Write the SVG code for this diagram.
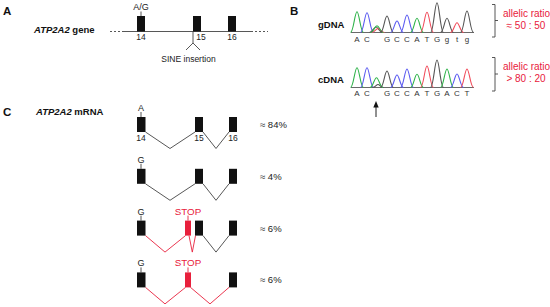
<svg xmlns="http://www.w3.org/2000/svg" width="550" height="307" viewBox="0 0 550 307">
<style>
text{font-family:"Liberation Sans",Arial,sans-serif;fill:#222}
.pl{font-size:11.5px;font-weight:bold;fill:#111}
.bl{font-size:9.5px;font-weight:bold;fill:#111}
.sm{font-size:8.5px}
.lb{font-size:9px}
.mid{text-anchor:middle}
.red{fill:#e8203c}
.ex{fill:#111}
.exr{fill:#e8203c}
.ln{fill:none;stroke:#444;stroke-width:0.9}
.lnr{fill:none;stroke:#e8203c;stroke-width:0.9}
.pk{fill:none;stroke-width:1.1}
.g{stroke:#2fb34a}.b{stroke:#5b5bf0}.k{stroke:#555}.r{stroke:#f04b5a}
.base{font-size:8px;fill:#333;text-anchor:middle}
.pct{font-size:9.5px}
.rr{font-size:10px;fill:#e8203c;text-anchor:middle}
</style>

<!-- Panel A -->
<g id="panelA">
<text class="pl" x="3" y="15">A</text>
<text class="bl" x="34" y="33"><tspan font-style="italic">ATP2A2</tspan> gene</text>
<g id="connectorsA">
<line class="ln" x1="110" y1="31.5" x2="122" y2="31.5" stroke-dasharray="2,2"/>
<line class="ln" x1="122" y1="31.5" x2="253" y2="31.5"/>
<line class="ln" x1="255" y1="31.5" x2="268" y2="31.5" stroke-dasharray="2,2"/>
<path class="ln" d="M141,11.5 V16"/>
<path class="ln" d="M193,31.5 V43 M193,43 L186,50 M193,43 L200,50"/>
</g>
<g id="A-exon14"><rect class="ex" x="137" y="16" width="8" height="15.5"/><text class="lb mid" x="141" y="10">A/G</text><text class="sm mid" x="141" y="40">14</text></g>
<g id="A-exon15"><rect class="ex" x="193" y="16" width="8" height="15.5"/><text class="sm mid" x="201" y="40">15</text></g>
<g id="A-exon16"><rect class="ex" x="228" y="16" width="8" height="15.5"/><text class="sm mid" x="232" y="40">16</text></g>
<text class="sm mid" x="188.5" y="62">SINE insertion</text>
</g>

<!-- Panel B -->
<g id="panelB">
<text class="pl" x="290" y="15">B</text>
<text class="bl" x="318" y="28">gDNA</text>
<text class="bl" x="318" y="83">cDNA</text>
<g id="gDNA-trace">
<line x1="351" y1="32.5" x2="474" y2="32.5" stroke="#444" stroke-width="0.8"/>
<path class="pk g" d="M350.5,32.5 C353.5,32.5 354.8,11.7 357,11.7 C359.2,11.7 360.5,32.5 363.5,32.5"/>
<path class="pk b" d="M360.5,32.5 C363.5,32.5 364.8,12.7 367,12.7 C369.2,12.7 370.5,32.5 373.5,32.5"/>
<path class="pk k" d="M369.5,32.5 C372.5,32.5 373.8,27 376,27 C378.2,27 379.5,32.5 382.5,32.5"/>
<path class="pk r" d="M371.5,32.5 C374.5,32.5 375.8,28.5 378,28.5 C380.2,28.5 381.5,32.5 384.5,32.5"/>
<path class="pk g" d="M370.5,32.5 C373.5,32.5 374.8,25.7 377,25.7 C379.2,25.7 380.5,32.5 383.5,32.5"/>
<path class="pk k" d="M380.5,32.5 C383.5,32.5 384.8,16 387,16 C389.2,16 390.5,32.5 393.5,32.5"/>
<path class="pk b" d="M390.5,32.5 C393.5,32.5 394.8,21 397,21 C399.2,21 400.5,32.5 403.5,32.5"/>
<path class="pk b" d="M400.5,32.5 C403.5,32.5 404.8,15 407,15 C409.2,15 410.5,32.5 413.5,32.5"/>
<path class="pk g" d="M410.5,32.5 C413.5,32.5 414.8,18.3 417,18.3 C419.2,18.3 420.5,32.5 423.5,32.5"/>
<path class="pk r" d="M420.5,32.5 C423.5,32.5 424.8,12.3 427,12.3 C429.2,12.3 430.5,32.5 433.5,32.5"/>
<path class="pk k" d="M430.5,32.5 C433.5,32.5 434.8,2.7 437,2.7 C439.2,2.7 440.5,32.5 443.5,32.5"/>
<path class="pk k" d="M440.5,32.5 C443.5,32.5 444.8,18.3 447,18.3 C449.2,18.3 450.5,32.5 453.5,32.5"/>
<path class="pk r" d="M450.5,32.5 C453.5,32.5 454.8,22.7 457,22.7 C459.2,22.7 460.5,32.5 463.5,32.5"/>
<path class="pk k" d="M460.5,32.5 C463.5,32.5 464.8,11 467,11 C469.2,11 470.5,32.5 473.5,32.5"/>
<text class="base" y="41.5"><tspan x="357">A</tspan><tspan x="367">C</tspan><tspan x="387">G</tspan><tspan x="397">C</tspan><tspan x="407">C</tspan><tspan x="417">A</tspan><tspan x="427">T</tspan><tspan x="437">G</tspan><tspan x="447">g</tspan><tspan x="457">t</tspan><tspan x="467">g</tspan></text>
</g>
<g id="cDNA-trace">
<line x1="351" y1="87.5" x2="474" y2="87.5" stroke="#444" stroke-width="0.8"/>
<path class="pk g" d="M350.5,87.5 C353.5,87.5 354.8,67.7 357,67.7 C359.2,67.7 360.5,87.5 363.5,87.5"/>
<path class="pk b" d="M360.5,87.5 C363.5,87.5 364.8,67.7 367,67.7 C369.2,67.7 370.5,87.5 373.5,87.5"/>
<path class="pk k" d="M372.5,87.5 C375.5,87.5 376.3,84.5 378,84.5 C379.7,84.5 380.5,87.5 383.5,87.5"/>
<path class="pk g" d="M370,87.5 C373,87.5 374.3,77.7 376.5,77.7 C378.7,77.7 380,87.5 383,87.5"/>
<path class="pk k" d="M380.5,87.5 C383.5,87.5 384.8,71 387,71 C389.2,71 390.5,87.5 393.5,87.5"/>
<path class="pk b" d="M390.5,87.5 C393.5,87.5 394.8,75 397,75 C399.2,75 400.5,87.5 403.5,87.5"/>
<path class="pk b" d="M400.5,87.5 C403.5,87.5 404.8,69 407,69 C409.2,69 410.5,87.5 413.5,87.5"/>
<path class="pk g" d="M410.5,87.5 C413.5,87.5 414.8,74.3 417,74.3 C419.2,74.3 420.5,87.5 423.5,87.5"/>
<path class="pk r" d="M420.5,87.5 C423.5,87.5 424.8,66 427,66 C429.2,66 430.5,87.5 433.5,87.5"/>
<path class="pk k" d="M430.5,87.5 C433.5,87.5 434.8,60 437,60 C439.2,60 440.5,87.5 443.5,87.5"/>
<path class="pk g" d="M440.5,87.5 C443.5,87.5 444.8,69 447,69 C449.2,69 450.5,87.5 453.5,87.5"/>
<path class="pk b" d="M450.5,87.5 C453.5,87.5 454.8,74 457,74 C459.2,74 460.5,87.5 463.5,87.5"/>
<path class="pk r" d="M460.5,87.5 C463.5,87.5 464.8,69 467,69 C469.2,69 470.5,87.5 473.5,87.5"/>
<text class="base" y="96"><tspan x="357">A</tspan><tspan x="367">C</tspan><tspan x="387">G</tspan><tspan x="397">C</tspan><tspan x="407">C</tspan><tspan x="417">A</tspan><tspan x="427">T</tspan><tspan x="437">G</tspan><tspan x="447">A</tspan><tspan x="457">C</tspan><tspan x="467">T</tspan></text>
</g>
<g id="arrow">
<line x1="376" y1="117" x2="376" y2="105" stroke="#222" stroke-width="1"/>
<polygon points="376,101 373.3,107.5 378.7,107.5" fill="#111"/>
</g>
<g id="brackets">
<path class="ln" d="M492,4.5 H495 V37 H492 M495,20.5 H498"/>
<path class="ln" d="M492,57.5 H495 V91 H492 M495,74 H498"/>
</g>
<text class="rr" x="526.5" y="17">allelic ratio</text>
<text class="rr" x="526" y="29">≈ 50 : 50</text>
<text class="rr" x="526.5" y="70">allelic ratio</text>
<text class="rr" x="526" y="82">&gt; 80 : 20</text>
</g>

<!-- Panel C -->
<g id="panelC">
<text class="pl" x="3" y="116">C</text>
<text class="bl" x="36" y="115"><tspan font-style="italic">ATP2A2</tspan> mRNA</text>

<g id="row1" transform="translate(0,117)">
<g id="connectors-row1"><path class="ln" d="M141,-5 V0 M145.5,15 L170,31.5 L195,15 M203,15 L216,31.5 L229,15"/></g>
<g id="r1-exon14"><rect class="ex" x="137" y="0" width="8.5" height="15"/><text class="lb mid" x="141" y="-6">A</text><text class="sm mid" x="141" y="24">14</text></g>
<g id="r1-exon15"><rect class="ex" x="195" y="0" width="8" height="15"/><text class="sm mid" x="199" y="24">15</text></g>
<g id="r1-exon16"><rect class="ex" x="229" y="0" width="8" height="15"/><text class="sm mid" x="233" y="24">16</text></g>
<text class="pct" x="260" y="11">≈ 84%</text>
</g>

<g id="row2" transform="translate(0,168.8)">
<g id="connectors-row2"><path class="ln" d="M141,-5 V0 M145.5,15 L170,31.5 L195,15 M203,15 L216,31.5 L229,15"/></g>
<g id="r2-exon14"><rect class="ex" x="137" y="0" width="8.5" height="15"/><text class="lb mid" x="141" y="-6">G</text></g>
<g id="r2-exon15"><rect class="ex" x="195" y="0" width="8" height="15"/></g>
<g id="r2-exon16"><rect class="ex" x="229" y="0" width="8" height="15"/></g>
<text class="pct" x="260" y="11">≈ 4%</text>
</g>

<g id="row3" transform="translate(0,220.6)">
<g id="connectors-row3">
<path class="ln" d="M141,-5 V0 M203,15 L216,31.5 L229,15"/>
<path class="lnr" d="M188,-5 V0 M145.5,15 L165,31.5 L185.5,15 M189,15 L192.3,31.5 L195.5,15"/>
</g>
<g id="r3-exon14"><rect class="ex" x="137" y="0" width="8.5" height="15"/><text class="lb mid" x="141" y="-6">G</text></g>
<g id="r3-stop"><rect class="exr" x="185" y="0" width="6" height="15"/><text class="lb mid red" x="188" y="-6" style="font-size:9.8px">STOP</text></g>
<g id="r3-exon15"><rect class="ex" x="195" y="0" width="8" height="15"/></g>
<g id="r3-exon16"><rect class="ex" x="229" y="0" width="8" height="15"/></g>
<text class="pct" x="260" y="11">≈ 6%</text>
</g>

<g id="row4" transform="translate(0,272.4)">
<g id="connectors-row4">
<path class="ln" d="M141,-5 V0"/>
<path class="lnr" d="M188,-5 V0 M145.5,15 L165,31.5 L185.5,15 M190.5,15 L210,31.5 L229,15"/>
</g>
<g id="r4-exon14"><rect class="ex" x="137" y="0" width="8.5" height="15"/><text class="lb mid" x="141" y="-6">G</text></g>
<g id="r4-stop"><rect class="exr" x="185" y="0" width="6" height="15"/><text class="lb mid red" x="188" y="-6" style="font-size:9.8px">STOP</text></g>
<g id="r4-exon16"><rect class="ex" x="229" y="0" width="8" height="15"/></g>
<text class="pct" x="260" y="11">≈ 6%</text>
</g>
</g>
</svg>
